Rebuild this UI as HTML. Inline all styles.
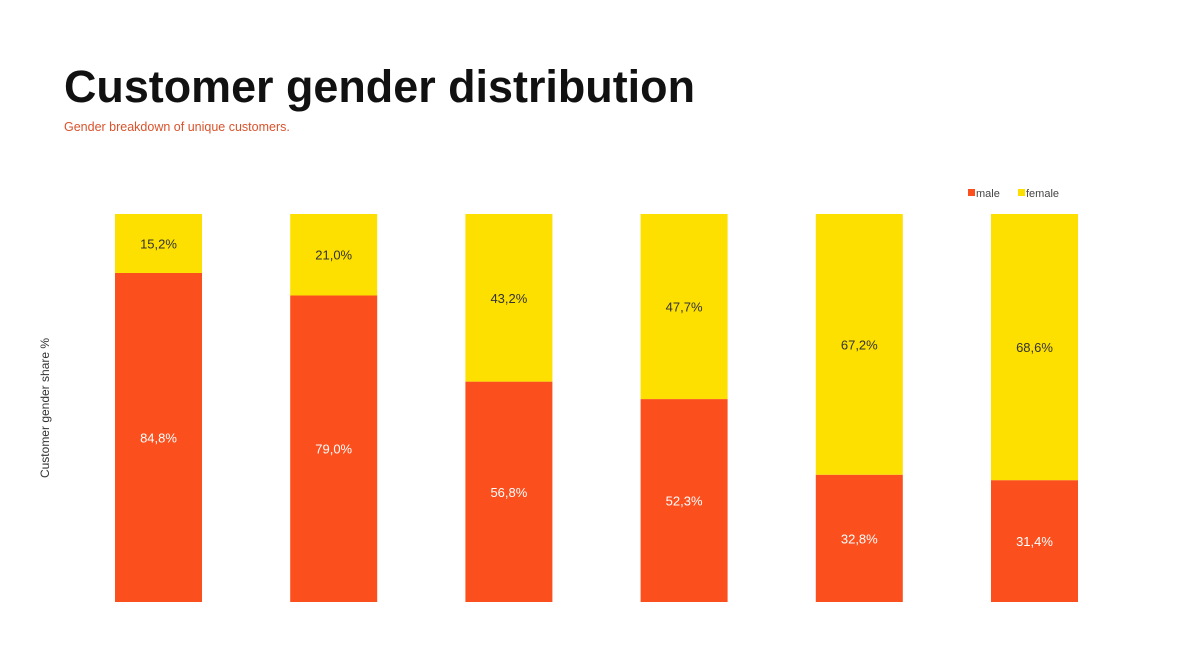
<!DOCTYPE html>
<html><head><meta charset="utf-8"><style>
html,body{margin:0;padding:0;background:#fff;}
svg{display:block;font-family:"Liberation Sans",Arial,sans-serif;}
</style></head><body>
<svg id="chart" width="1200" height="654" viewBox="0 0 1200 654">
<text x="64" y="102" font-size="45" font-weight="bold" fill="#111" textLength="631" lengthAdjust="spacingAndGlyphs">Customer gender distribution</text>
<text x="64" y="131" font-size="12.5" fill="#d9532c">Gender breakdown of unique customers.</text>
<g>
<rect x="968" y="189" width="7" height="7" fill="#fc4f1e"/>
<text x="976" y="197" font-size="11" fill="#444">male</text>
<rect x="1018" y="189" width="7" height="7" fill="#fde000"/>
<text x="1026" y="197" font-size="11" fill="#444">female</text>
</g>
<text transform="translate(49,408) rotate(-90)" text-anchor="middle" font-size="12" fill="#333">Customer gender share %</text>
<g id="bars"></g>
</svg>
<script>
const categories = ["g1","g2","g3","g4","g5","g6"];
const maleValues = [84.8, 79.0, 56.8, 52.3, 32.8, 31.4];
const femaleValues = [15.2, 21.0, 43.2, 47.7, 67.2, 68.6];
const NS = "http://www.w3.org/2000/svg";
const plotTop = 214, plotBottom = 602, firstX = 115, step = 175.2, barW = 87;
function y(v){ return plotBottom - (v/100)*(plotBottom-plotTop); }
function x(i){ return firstX + i*step; }
function fmt(v){ return v.toFixed(1).replace('.', ',') + '%'; }
const g = document.getElementById('bars');
categories.forEach((c,i)=>{
  const m = maleValues[i], f = femaleValues[i];
  const r1 = document.createElementNS(NS,'rect');
  
  
  r1.setAttribute('x',x(i)); r1.setAttribute('width',barW);
  r1.setAttribute('y',y(m)); r1.setAttribute('height',plotBottom-y(m));
  r1.setAttribute('fill','#fc4f1e'); g.appendChild(r1);
  const r2 = document.createElementNS(NS,'rect');
  
  
  r2.setAttribute('x',x(i)); r2.setAttribute('width',barW);
  r2.setAttribute('y',y(m+f)); r2.setAttribute('height',y(m)-y(m+f));
  r2.setAttribute('fill','#fde000'); g.appendChild(r2);
  const t1 = document.createElementNS(NS,'text');
  
  
  t1.setAttribute('x',x(i)+barW/2); t1.setAttribute('y',(y(m)+plotBottom)/2+5);
  t1.setAttribute('text-anchor','middle'); t1.setAttribute('font-size','13');
  t1.setAttribute('fill','#fff'); t1.textContent = fmt(m); g.appendChild(t1);
  const t2 = document.createElementNS(NS,'text');
  
  
  t2.setAttribute('x',x(i)+barW/2); t2.setAttribute('y',(y(m+f)+y(m))/2+5);
  t2.setAttribute('text-anchor','middle'); t2.setAttribute('font-size','13');
  t2.setAttribute('fill','#333'); t2.textContent = fmt(f); g.appendChild(t2);
});
</script>
</body></html>
